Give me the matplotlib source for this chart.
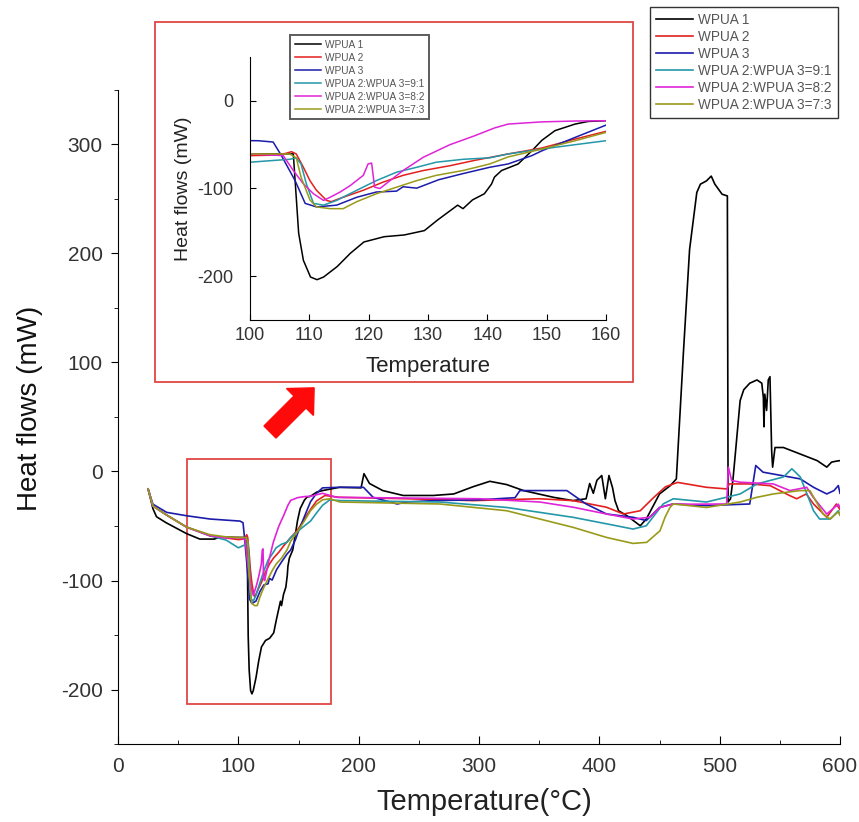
import matplotlib
matplotlib.use("Agg")
import matplotlib.pyplot as plt
from matplotlib.patches import Rectangle, FancyArrow
from matplotlib.transforms import IdentityTransform
from matplotlib.ticker import MultipleLocator

NARROW = ['Liberation Sans Narrow', 'Liberation Sans', 'DejaVu Sans']
REG = ['Liberation Sans', 'DejaVu Sans']
plt.rcParams['font.family'] = NARROW
plt.rcParams['axes.unicode_minus'] = False

labels = ["WPUA 1", "WPUA 2", "WPUA 3", "WPUA 2:WPUA 3=9:1", "WPUA 2:WPUA 3=8:2", "WPUA 2:WPUA 3=7:3"]
colors = ["#000000", "#e3201f", "#1c1caa", "#2497a8", "#e024d8", "#9a9a1a"]

# WPUA 1
t1 = [25, 29, 32, 40, 57, 68, 80, 85, 100, 107.3, 108.2, 109, 110.2, 111.3, 112.4, 114.7, 116.9, 119.2,
      122.6, 126, 129.4, 131.6, 135, 135.9, 137.5, 139.5, 140.7, 141.2, 142.4, 145.2, 147.5, 149.2, 151.4,
      154.8, 157, 160, 165, 170, 184, 202, 204.4, 209, 220, 237, 262, 279, 295, 309, 323, 337, 362, 378,
      389, 392, 395, 398, 402, 405, 408, 411, 413, 416, 423, 434, 439, 450, 459, 464, 470, 475, 481, 484,
      489, 493, 496, 499, 502, 506.4, 507, 509, 511, 513, 517, 520, 525, 531, 535, 536.3, 536.8, 537.5,
      539, 540.4, 541.8, 543.2, 544, 546, 553, 567, 581, 589, 593, 597, 600]
h1 = [-16, -34, -41.5, -47, -57, -62, -62, -60, -60.5, -60.5, -151, -182, -201, -204, -201, -189, -174, -161,
      -155, -153, -148, -136, -119, -123, -113, -106, -95, -87, -79.5, -72, -57, -45, -34,
      -26.5, -23.5, -22.7, -19, -17.5, -14.5, -15, -2, -11, -17.5, -22, -22, -20.6, -14, -9, -12, -17.5, -23.7, -26.7,
      -25, -11, -20, -8, -3.7, -25, -3.7, -15, -26.7, -36, -40.6, -49.8, -43.6, -20.6, -12.9, -6.8, 111.5, 203.7, 256, 263.6,
      266.6, 271, 263.6, 259, 254.4, 252.8, -28, -25, -8, 16, 65, 75, 81, 84, 81, 68, 41, 71,
      56, 84, 87, 19, 4, 22, 22, 16, 10, 4, 8.6, 9.5, 10]

# WPUA 2
t2 = [25, 29, 40.5, 57, 76.5, 90, 100, 104, 106, 107, 107.8, 109, 110.1, 111.2, 112.9, 113.7, 115.7, 119.1,
      122.4, 125.8, 129.2, 133.7, 137.8, 143.5, 149.2, 154.8, 160, 165, 172, 184, 240, 295, 350, 378, 406,
      420, 434, 445, 455, 465, 489, 506, 508, 525, 542, 558, 564, 572, 578, 589, 597, 600]
h2 = [-16, -31.6, -40, -51, -59, -61, -62.5, -62, -60, -58, -60.6, -75.8, -91, -102, -113.6, -115, -110, -102,
      -92.8, -85, -79.5, -74, -68, -60.6, -53.8, -43.6, -34.8, -27, -22, -23.7, -25, -26.7, -25, -26.7, -32.8,
      -39, -36, -24, -14, -10, -14.5, -16, -11.4, -11.4, -13, -22, -25, -20.6, -29.8, -42, -29.8, -35]

# WPUA 3
t3 = [25, 29, 40.5, 57, 76.5, 101.4, 103.9, 105.3, 107.6, 109.3, 111.2, 114.6, 118, 121.3, 124.7, 125.8,
      128.1, 131.8, 135.9, 140.4, 143.5, 147.5, 149.2, 154.8, 160, 165, 170, 184, 204, 212, 232, 240, 262,
      300, 330, 334, 373, 389, 406, 428, 439, 450, 461, 489, 525, 530, 536, 567, 578, 589, 595, 598.6, 600]
h3 = [-16, -30, -37.5, -40.6, -43.6, -45.5, -47, -62.5, -91, -117, -121, -119, -110, -104, -103, -98,
      -99.6, -90, -83, -75.8, -72, -62.5, -57, -41.7, -27.7, -20, -15, -14.5, -14.5, -23.7, -29.8, -28, -26.7,
      -26, -24, -17.5, -17.5, -29.8, -39, -42, -45, -33, -29.8, -31.3, -29.8, 5.5, -0.6, -6.8, -14.5, -20.6, -17.5, -12.9, -20]

# WPUA 2:WPUA 3=9:1
t4 = [25, 29, 40.5, 57, 76.5, 90, 100, 104, 106.7, 107.8, 108.6, 109.5, 110.7, 112.4, 114.6, 118, 121.3,
      124.7, 128.1, 131.4, 135.9, 140.4, 143.5, 149.2, 154.8, 160, 165, 170, 176, 184.5, 267.5, 323, 378,
      406, 428, 439, 453, 461.5, 489, 517, 531, 553, 560, 567, 578, 583, 592, 598.6, 600]
h4 = [-16, -31.6, -40, -51, -59, -63, -70, -68, -66.7, -65, -72, -94.7, -117, -119, -113.6, -102, -91,
      -81.4, -75.8, -70, -66.7, -65, -60.6, -55, -50, -45.5, -38, -31, -26, -26.7, -28, -33, -42,
      -48, -52.8, -49.8, -29.8, -25, -28, -20.6, -11.4, -5, 2.5, -5, -36, -43.6, -43.6, -36, -40]

# WPUA 2:WPUA 3=8:2
t5 = [25, 29, 40.5, 57, 76.5, 90, 100, 105.6, 107.3, 109, 110.7, 112.4, 113.5, 115.2, 116.9, 119.1, 119.9,
      120.5, 121, 121.9, 123.6, 125.8, 129.2, 133.7, 137.8, 141.2, 143.5, 149.2, 155, 160, 170, 181.7, 300,
      350.6, 378.4, 406, 428, 442, 450.4, 461.5, 475.4, 505.8, 507.2, 510, 517, 544.6, 558.4, 572.3, 577.8,
      589, 598.6, 600]
h5 = [-16, -31.6, -40, -51, -59, -61, -60.6, -62.5, -79.5, -94.7, -106, -113.6, -110, -104, -96.6, -85, -72,
      -71, -98.5, -100, -91, -79.5, -64.4, -50, -40, -31, -26.5, -24, -23, -22.7, -20, -23.7, -25,
      -28, -32.8, -39, -43.6, -42, -33, -29.8, -30, -29.8, 4, -8.3, -9.8, -11.4, -17.5, -14.5, -23.7,
      -39, -30, -33]

# WPUA 2:WPUA 3=7:3
t6 = [25, 29, 40.5, 57, 76.5, 90, 100, 106.7, 107.8, 108.6, 110.1, 111.2, 113.5, 115.7, 118, 121.3, 124.7,
      128.1, 131.4, 135.9, 140.4, 143.5, 149.2, 154.8, 160, 165, 170, 176, 184.5, 267.5, 323, 378.4, 406,
      428, 439.4, 450.4, 454.6, 458.7, 461.5, 489, 517, 530.8, 544.6, 566.7, 575, 586, 591.7, 598.6, 600]
h6 = [-16, -31.6, -40, -51, -58, -60, -60.6, -60.6, -65, -87, -113, -121, -123, -123, -115, -106, -98.5,
      -91, -85, -79.5, -72, -64, -55, -45.5, -36, -30, -26, -25, -28, -29.8, -36, -51.3, -60.5,
      -66, -65, -54.4, -42, -33, -29.8, -33, -28, -23.7, -20.6, -17.5, -17.5, -39, -43.6, -37, -40]

series = [(t1, h1), (t2, h2), (t3, h3), (t4, h4), (t5, h5), (t6, h6)]

W, H = 859, 822
fig = plt.figure(figsize=(W / 100, H / 100), dpi=100)

def fx(px):
    return px / W

def fy(py):
    return 1 - py / H

# main axes
ax = fig.add_axes([fx(118), fy(744), fx(840) - fx(118), fy(90) - fy(744)])
ax.set_zorder(0)
for (t, h), c, lab in zip(series, colors, labels):
    ax.plot(t, h, color=c, lw=1.2, label=lab)
ax.set_xlim(0, 600)
ax.set_ylim(-250, 350)
ax.spines['top'].set_visible(False)
ax.spines['right'].set_visible(False)
ax.xaxis.set_major_locator(MultipleLocator(100))
ax.xaxis.set_minor_locator(MultipleLocator(50))
ax.yaxis.set_major_locator(MultipleLocator(100))
ax.yaxis.set_minor_locator(MultipleLocator(50))
ax.tick_params(axis='x', which='major', direction='in', length=6, pad=9, labelsize=15, labelcolor='#333333')
ax.tick_params(axis='x', which='minor', direction='in', length=3)
ax.tick_params(axis='y', which='major', direction='out', length=5, pad=6, labelsize=15, labelcolor='#333333')
ax.tick_params(axis='y', which='minor', direction='out', length=3)
ax.add_patch(Rectangle((57.5, -213), 119.5, 224.5, fill=False, edgecolor='#e04545', lw=1.3, clip_on=False))

fig.text(fx(484), fy(802), "Temperature(°C)", ha='center', va='center', fontsize=21, color='#222222')
fig.text(fx(30), fy(408), "Heat flows (mW)", ha='center', va='center', rotation=90, fontsize=20,
         color='#111111', family=REG)

# main legend
leg = fig.legend(loc='upper left', bbox_to_anchor=(fx(650), fy(7)), frameon=True, borderaxespad=0,
                 fancybox=False, edgecolor='black', handlelength=2.7, labelspacing=0.22,
                 borderpad=0.45, handletextpad=0.4, prop={'family': REG, 'size': 9.8})
leg.get_frame().set_linewidth(1.0)
for tx in leg.get_texts():
    tx.set_color('#555555')

# inset frame (between main axes and inset axes)
frame = Rectangle((fx(155), fy(382)), fx(633) - fx(155), fy(22) - fy(382), transform=fig.transFigure,
                  facecolor='white', edgecolor='#e04545', lw=1.3, zorder=1)
fig.add_artist(frame)

# inset axes
ax2 = fig.add_axes([fx(250), fy(320), fx(606) - fx(250), fy(57) - fy(320)])
ax2.set_zorder(2)
ax2.patch.set_alpha(0)
for (t, h), c, lab in zip(series, colors, labels):
    ax2.plot(t, h, color=c, lw=1.1, label=lab)
ax2.set_xlim(100, 160)
ax2.set_ylim(-250, 50)
ax2.spines['top'].set_visible(False)
ax2.spines['right'].set_visible(False)
ax2.set_xticks([100, 110, 120, 130, 140, 150, 160])
ax2.set_yticks([0, -100, -200])
ax2.tick_params(axis='both', direction='in', length=4, labelsize=13, labelcolor='#333333')
ax2.tick_params(axis='x', pad=5)
ax2.tick_params(axis='y', pad=12)
ax2.set_xlabel("Temperature", fontsize=16, color='#222222', labelpad=9)
ax2.set_ylabel("Heat flows (mW)", fontsize=14, color='#222222', family=REG)
leg2 = ax2.legend(loc='upper left', bbox_to_anchor=(fx(290), fy(35)), bbox_transform=fig.transFigure,
                  borderaxespad=0, frameon=True, fancybox=False, edgecolor='#333333', handlelength=2.6,
                  labelspacing=0.3, borderpad=0.45, handletextpad=0.4, prop={'family': REG, 'size': 7.3})
leg2.get_frame().set_linewidth(1.4)
for tx in leg2.get_texts():
    tx.set_color('#555555')

# red arrow
arrow = FancyArrow(270, H - 432, 30, 30, width=17, head_width=38, head_length=20,
                   length_includes_head=False, color='#ff0a0a', transform=IdentityTransform())
fig.add_artist(arrow)

fig.savefig("out.png", dpi=100)
